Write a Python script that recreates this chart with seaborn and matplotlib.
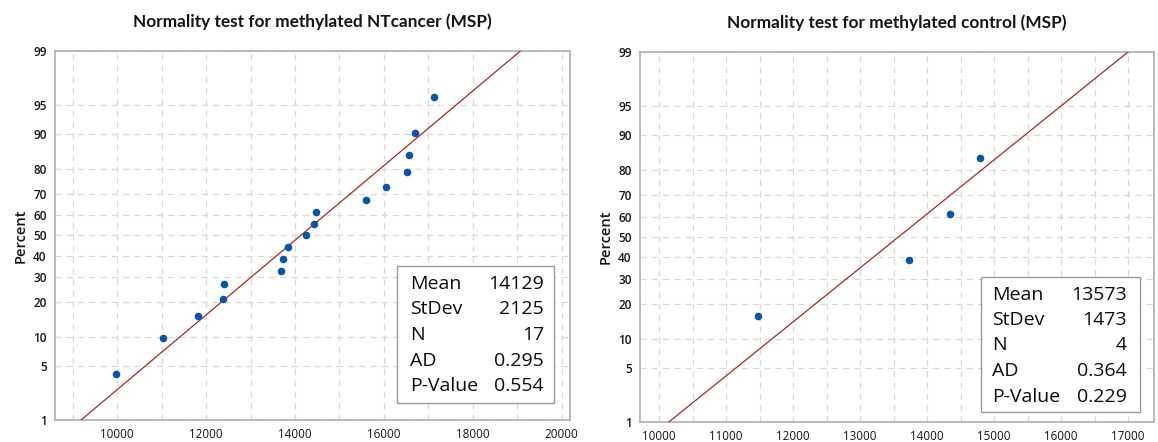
import numpy as np
import pandas as pd
import seaborn as sns
import matplotlib
matplotlib.use("Agg")
import matplotlib.pyplot as plt
from matplotlib.patches import Rectangle
from matplotlib.ticker import MultipleLocator, FixedLocator
from statistics import NormalDist

# ---------------- data ----------------
left_title = "Normality test for methylated NTcancer (MSP)"
right_title = "Normality test for methylated control (MSP)"

left_values = [9971, 11027, 11827, 12389, 12412, 13678, 13738, 13835, 14254,
               14434, 14479, 15603, 16052, 16524, 16562, 16712, 17124]
left_percent = [4.0, 9.8, 15.5, 21.3, 27.0, 32.8, 38.5, 44.3, 50.0,
                55.7, 61.5, 67.2, 73.0, 78.7, 84.5, 90.2, 96.0]
left_stats_labels = ["Mean", "StDev", "N", "AD", "P-Value"]
left_stats_values = ["14129", "2125", "17", "0.295", "0.554"]
left_mean, left_sd = 14129, 2125

right_values = [11473, 13736, 14343, 14786]
right_percent = [15.9, 38.6, 61.4, 84.1]
right_stats_labels = ["Mean", "StDev", "N", "AD", "P-Value"]
right_stats_values = ["13573", "1473", "4", "0.364", "0.229"]
right_mean, right_sd = 13573, 1473

percent_ticks = [1, 5, 10, 20, 30, 40, 50, 60, 70, 80, 90, 95, 99]
left_xticks = [10000, 12000, 14000, 16000, 18000, 20000]
right_xticks = [10000, 11000, 12000, 13000, 14000, 15000, 16000, 17000]

# ---------------- style ----------------
sns.set_theme(style="white")
plt.rcParams["font.family"] = ["Open Sans", "DejaVu Sans"]

W, H = 1158, 442
fig = plt.figure(figsize=(W / 100, H / 100), dpi=100)

nd = NormalDist()
_ppf = np.vectorize(lambda p: nd.inv_cdf(p), otypes=[float])
_cdf = np.vectorize(lambda z: nd.cdf(z), otypes=[float])


def fwd(p):
    p = np.clip(np.asarray(p, dtype=float), 1e-9, 100 - 1e-9)
    return _ppf(p / 100.0)


def inv(z):
    return _cdf(np.asarray(z, dtype=float)) * 100.0


DOT = "#0a55a3"
LINE = "#a8282a"
GRID = "#d9d9d9"
SPINE = "#b4b4b4"
TXT = "#141414"


def px_axes(x0, y0, x1, y1):
    return fig.add_axes([x0 / W, (H - y1) / H, (x1 - x0) / W, (y1 - y0) / H])


def panel(ax, values, percent, mean, sd, xlim, xticks, minor, title,
          slabels, svalues, box, lab_x, val_x, baselines):
    ax.set_yscale("function", functions=(fwd, inv))
    df = pd.DataFrame({"value": values, "percent": percent})
    pl = [0.05, 99.95]
    fit = pd.DataFrame({"x": [mean + sd * nd.inv_cdf(p / 100) for p in pl],
                        "p": pl})
    sns.lineplot(data=fit, x="x", y="p", ax=ax, color=LINE, lw=0.9,
                 sort=False, zorder=3)
    sns.scatterplot(data=df, x="value", y="percent", ax=ax, color=DOT,
                    s=30, linewidth=0, zorder=4)
    ax.set_xlim(*xlim)
    ax.set_ylim(1, 99)
    ax.yaxis.set_major_locator(FixedLocator(percent_ticks))
    ax.yaxis.set_minor_locator(FixedLocator([]))
    ax.set_yticklabels([str(t) for t in percent_ticks])
    ax.xaxis.set_major_locator(FixedLocator(xticks))
    ax.xaxis.set_minor_locator(MultipleLocator(minor))
    ax.set_xticklabels([str(t) for t in xticks])
    ax.grid(True, which="both", color=GRID, ls=(0, (5, 4)), lw=0.9)
    ax.set_axisbelow(True)
    for sp in ax.spines.values():
        sp.set_color(SPINE)
        sp.set_linewidth(1.3)
    ax.tick_params(axis="both", which="major", direction="out", length=4,
                   width=0.9, color=SPINE, pad=2)
    ax.tick_params(axis="x", which="minor", length=0)
    ax.tick_params(axis="y", labelsize=8.5, labelcolor=TXT)
    ax.tick_params(axis="x", labelsize=8.4, labelcolor=TXT)
    for lab in ax.get_yticklabels():
        lab.set_fontweight("semibold")
    ax.set_xlabel("")
    ax.set_ylabel("Percent", fontsize=10.5, fontweight="semibold",
                  color=TXT, labelpad=4)
    ax.set_title(title, fontsize=12.4, fontweight="bold",
                 family=["Lato", "DejaVu Sans"], color=TXT, pad=17)
    # statistics box
    bx0, by0, bx1, by1 = box
    fig.patches.append(Rectangle((bx0 / W, (H - by1) / H), (bx1 - bx0) / W,
                                 (by1 - by0) / H, transform=fig.transFigure,
                                 facecolor="white", edgecolor="#9a9a9a",
                                 lw=1.0, zorder=5))
    for lab, val, b in zip(slabels, svalues, baselines):
        fig.text(lab_x / W, (H - b) / H, lab, fontsize=14, ha="left",
                 va="baseline", color="#0c0c0c", zorder=6)
        fig.text(val_x / W, (H - b) / H, val, fontsize=14, ha="right",
                 va="baseline", color="#0c0c0c", zorder=6)


axL = px_axes(55, 51, 570, 420)
panel(axL, left_values, left_percent, left_mean, left_sd, (8600, 20190),
      left_xticks, 1000, left_title, left_stats_labels, left_stats_values,
      (397, 266, 554, 403), 410.5, 544, [289, 314.5, 340, 365.5, 391])

axR = px_axes(640, 52, 1154, 422)
panel(axR, right_values, right_percent, right_mean, right_sd, (9716, 17388),
      right_xticks, 500, right_title, right_stats_labels, right_stats_values,
      (981, 277, 1140, 412), 992, 1127, [299.5, 325, 350.5, 376, 401.5])

fig.savefig("out.png", dpi=100)
